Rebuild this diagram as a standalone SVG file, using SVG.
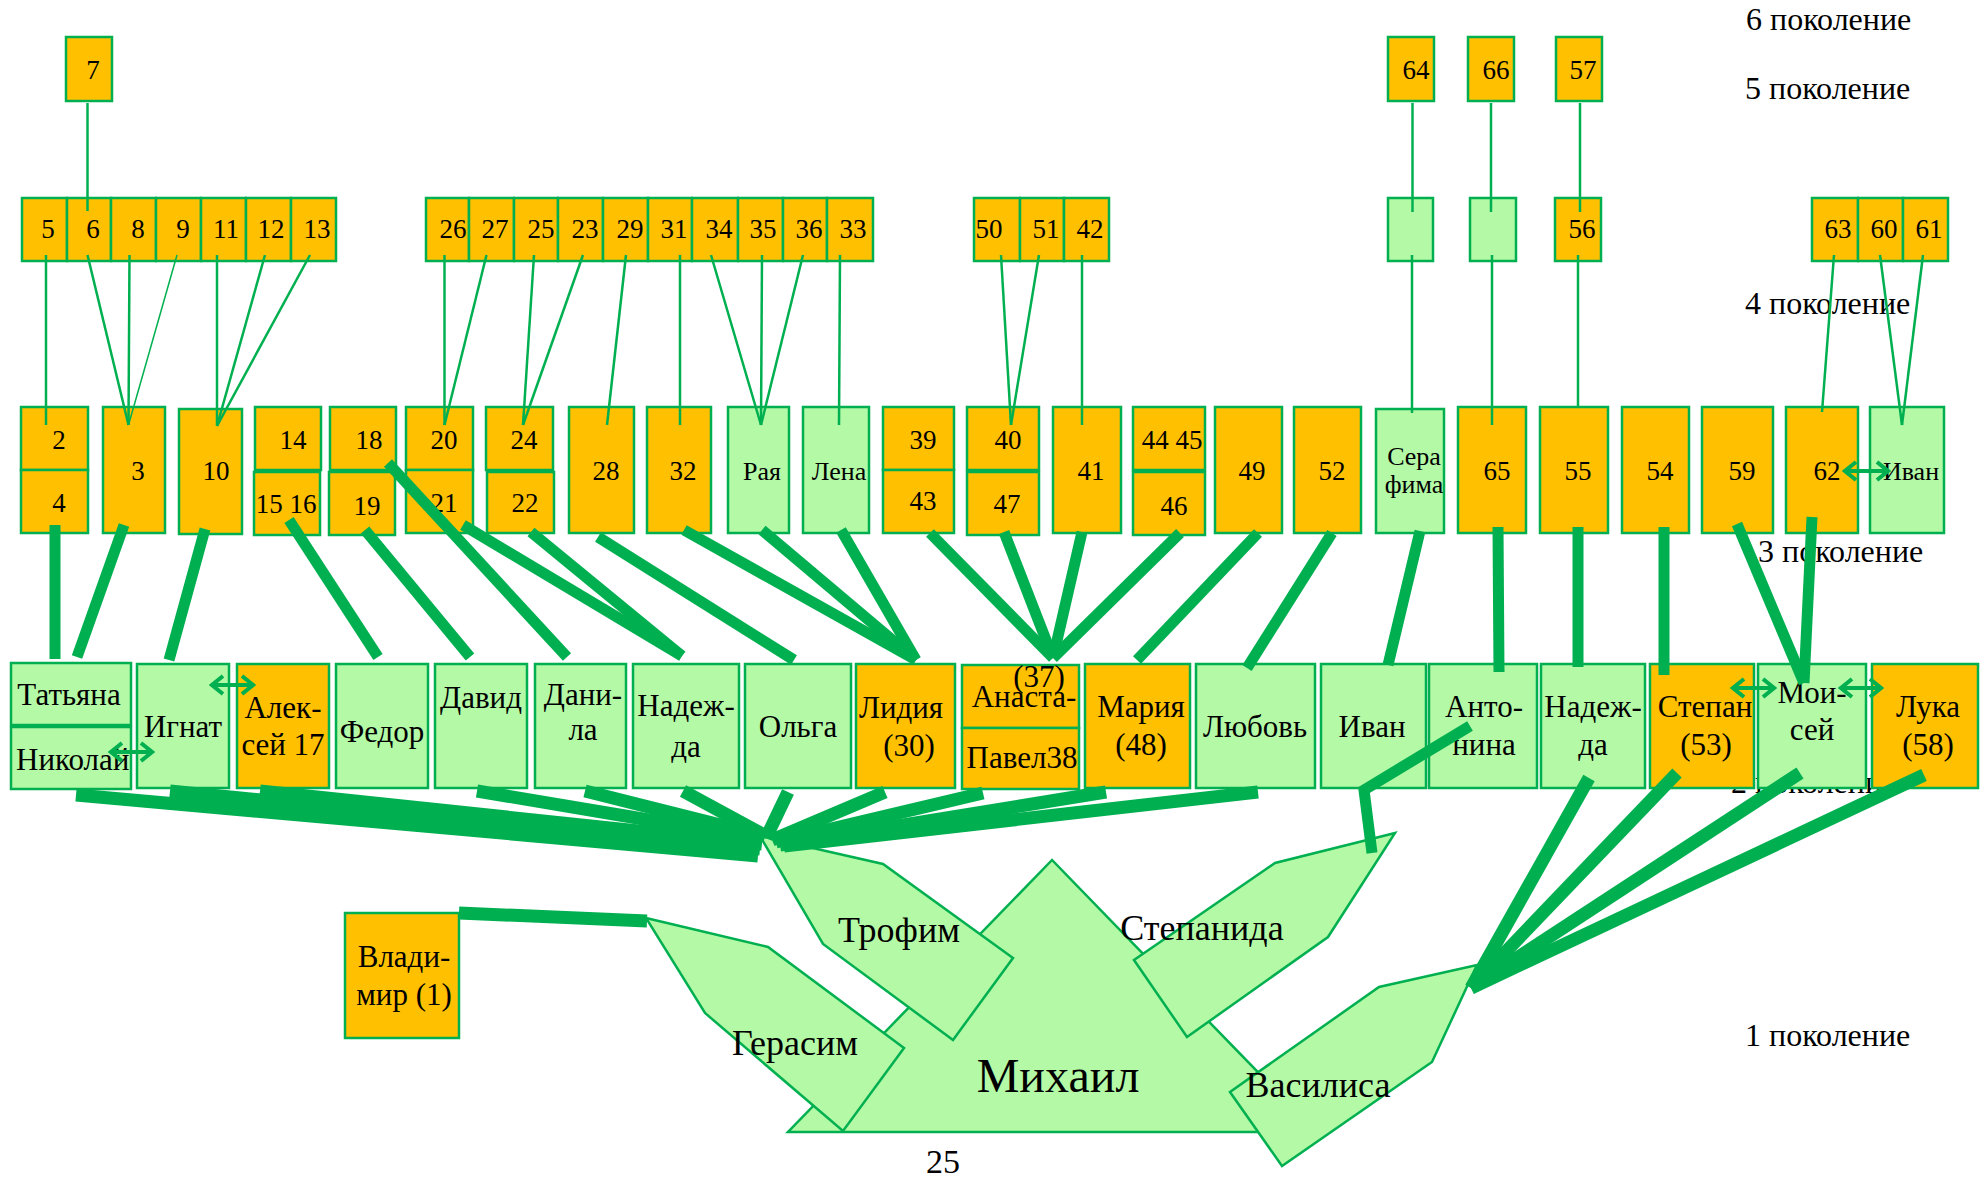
<svg xmlns="http://www.w3.org/2000/svg" width="1986" height="1179" viewBox="0 0 1986 1179">
<style>
text{font-family:"Liberation Serif","Times New Roman",serif;fill:#000}
.o{fill:#FFC000;stroke:#00B050;stroke-width:2.5}
.g{fill:#B3F9A6;stroke:#00B050;stroke-width:2.5}
.n{font-size:27px;text-anchor:middle}
.s{font-size:26px;text-anchor:middle}
.m{font-size:31px;text-anchor:middle}
.b{font-size:36px;text-anchor:middle}
.lab{font-size:32px}
.thin line{stroke:#00B050;stroke-width:2.5}
.thick line,.thick polyline{stroke:#00B050;stroke-width:11;fill:none}
.fan line{stroke:#00B050;stroke-width:13}
.da{stroke:#00B050;stroke-width:4;marker-start:url(#ah);marker-end:url(#ah)}
</style>
<defs>
<marker id="ah" viewBox="0 0 16 22" markerWidth="16" markerHeight="22" refX="13" refY="11" orient="auto-start-reverse" markerUnits="userSpaceOnUse">
<path d="M2,2 L13,11 L2,20" fill="none" stroke="#00B050" stroke-width="4"/>
</marker>
</defs>

<g id="labels">
<text class="lab" x="1746" y="30">6 поколение</text>
<text class="lab" x="1745" y="99">5 поколение</text>
<text class="lab" x="1745" y="314">4 поколение</text>
<text class="lab" x="1758" y="562">3 поколение</text>
<text class="lab" x="1731" y="793">2 поколение</text>
<text class="lab" x="1745" y="1046">1 поколение</text>
<text x="943" y="1173" style="font-size:34px;text-anchor:middle">25</text>
</g>

<!-- generation 1 -->
<g id="n-mikhail"><polygon class="g" points="1052,860 788,1132 1316,1132"/><text x="1058" y="1092" style="font-size:48px;text-anchor:middle">Михаил</text></g>
<g id="n-trofim"><polygon class="g" points="760,836 883,864 1013,958 953,1040 823,944"/><text class="b" x="899" y="942">Трофим</text></g>
<g id="n-gerasim"><polygon class="g" points="646,918 768,947 904,1048 843,1131 705,1013"/><text class="b" x="795" y="1055">Герасим</text></g>
<g id="n-stepanida"><polygon class="g" points="1134,960 1275,863 1395,833 1328,937 1187,1037"/><text class="b" x="1202" y="940">Степанида</text></g>
<g id="n-vasilisa"><polygon class="g" points="1230,1092 1379,987 1477,965 1432,1062 1282,1166"/><text class="b" x="1318" y="1097">Василиса</text></g>
<g id="n-vladimir"><rect class="o" x="345" y="913" width="114" height="125"/><text class="m" x="404" y="967">Влади-</text><text class="m" x="404" y="1005">мир (1)</text></g>

<!-- generation 2 -->
<g id="n-tatyana"><rect class="g" x="11" y="663" width="120" height="62"/><text class="m" x="69" y="705">Татьяна</text></g>
<g id="n-nikolai"><rect class="g" x="11" y="727" width="120" height="62"/><text class="m" x="16" y="770" style="text-anchor:start">Николай</text></g>
<g id="n-ignat"><rect class="g" x="137" y="664" width="92" height="124"/><text class="m" x="183" y="737">Игнат</text></g>
<g id="n-aleksei"><rect class="o" x="237" y="664" width="92" height="124"/><text class="m" x="283" y="718">Алек-</text><text class="m" x="283" y="755">сей 17</text></g>
<g id="n-fedor"><rect class="g" x="336" y="664" width="92" height="124"/><text class="m" x="382" y="742">Федор</text></g>
<g id="n-david"><rect class="g" x="435" y="664" width="92" height="124"/><text class="m" x="481" y="708">Давид</text></g>
<g id="n-danila"><rect class="g" x="535" y="664" width="91" height="124"/><text class="m" x="583" y="705">Дани-</text><text class="m" x="583" y="740">ла</text></g>
<g id="n-nadezhda1"><rect class="g" x="633" y="664" width="106" height="124"/><text class="m" x="686" y="716">Надеж-</text><text class="m" x="686" y="757">да</text></g>
<g id="n-olga"><rect class="g" x="745" y="664" width="106" height="124"/><text class="m" x="798" y="737">Ольга</text></g>
<g id="n-lidiya"><rect class="o" x="856" y="664" width="99" height="124"/><text class="m" x="901" y="718">Лидия</text><text class="m" x="909" y="756">(30)</text></g>
<g id="n-anastasia"><rect class="o" x="962" y="665" width="117" height="63"/><rect class="o" x="962" y="728" width="117" height="61"/><text class="m" x="1024" y="707">Анаста-</text><text class="m" x="1039" y="687">(37)</text><text class="m" x="1022" y="768">Павел38</text></g>
<g id="n-mariya"><rect class="o" x="1085" y="664" width="105" height="124"/><text class="m" x="1141" y="717">Мария</text><text class="m" x="1141" y="755">(48)</text></g>
<g id="n-lyubov"><rect class="g" x="1196" y="664" width="119" height="124"/><text class="m" x="1255" y="737">Любовь</text></g>
<g id="n-ivan2"><rect class="g" x="1321" y="664" width="105" height="124"/><text class="m" x="1372" y="737">Иван</text></g>
<g id="n-antonina"><rect class="g" x="1429" y="664" width="108" height="124"/><text class="m" x="1484" y="717">Анто-</text><text class="m" x="1484" y="755">нина</text></g>
<g id="n-nadezhda2"><rect class="g" x="1541" y="664" width="104" height="124"/><text class="m" x="1593" y="717">Надеж-</text><text class="m" x="1593" y="755">да</text></g>
<g id="n-stepan"><rect class="o" x="1650" y="664" width="104" height="124"/><text class="m" x="1705" y="717">Степан</text><text class="m" x="1706" y="755">(53)</text></g>
<g id="n-moisei"><rect class="g" x="1758" y="664" width="108" height="124"/><text class="m" x="1812" y="703">Мои-</text><text class="m" x="1812" y="740">сей</text></g>
<g id="n-luka"><rect class="o" x="1872" y="664" width="106" height="124"/><text class="m" x="1928" y="717">Лука</text><text class="m" x="1928" y="755">(58)</text></g>

<!-- generation 3 -->
<g id="n-2"><rect class="o" x="21" y="407" width="67" height="63"/><text class="n" x="59" y="449">2</text></g>
<g id="n-4"><rect class="o" x="21" y="470" width="67" height="63"/><text class="n" x="59" y="512">4</text></g>
<g id="n-3"><rect class="o" x="103" y="407" width="62" height="126"/><text class="n" x="138" y="480">3</text></g>
<g id="n-10"><rect class="o" x="179" y="409" width="63" height="125"/><text class="n" x="216" y="480">10</text></g>
<g id="n-14"><rect class="o" x="255" y="407" width="66" height="63"/><text class="n" x="293" y="449">14</text></g>
<g id="n-15-16"><rect class="o" x="254" y="472" width="66" height="63"/><text class="n" x="286" y="513">15 16</text></g>
<g id="n-18"><rect class="o" x="330" y="407" width="66" height="63"/><text class="n" x="369" y="449">18</text></g>
<g id="n-19"><rect class="o" x="329" y="472" width="66" height="63"/><text class="n" x="367" y="515">19</text></g>
<g id="n-20"><rect class="o" x="406" y="407" width="67" height="63"/><text class="n" x="444" y="449">20</text></g>
<g id="n-21"><rect class="o" x="406" y="470" width="67" height="63"/><text class="n" x="444" y="512">21</text></g>
<g id="n-24"><rect class="o" x="486" y="407" width="67" height="63"/><text class="n" x="524" y="449">24</text></g>
<g id="n-22"><rect class="o" x="487" y="472" width="67" height="61"/><text class="n" x="525" y="512">22</text></g>
<g id="n-28"><rect class="o" x="569" y="407" width="65" height="126"/><text class="n" x="606" y="480">28</text></g>
<g id="n-32"><rect class="o" x="647" y="407" width="64" height="126"/><text class="n" x="683" y="480">32</text></g>
<g id="n-raya"><rect class="g" x="728" y="407" width="61" height="126"/><text class="s" x="762" y="480">Рая</text></g>
<g id="n-lena"><rect class="g" x="803" y="407" width="66" height="126"/><text class="s" x="839" y="480">Лена</text></g>
<g id="n-39"><rect class="o" x="883" y="407" width="71" height="63"/><text class="n" x="923" y="449">39</text></g>
<g id="n-43"><rect class="o" x="883" y="470" width="71" height="63"/><text class="n" x="923" y="510">43</text></g>
<g id="n-40"><rect class="o" x="967" y="407" width="72" height="63"/><text class="n" x="1008" y="449">40</text></g>
<g id="n-47"><rect class="o" x="967" y="472" width="72" height="63"/><text class="n" x="1007" y="513">47</text></g>
<g id="n-41"><rect class="o" x="1053" y="407" width="68" height="126"/><text class="n" x="1091" y="480">41</text></g>
<g id="n-44-45"><rect class="o" x="1133" y="407" width="72" height="63"/><text class="n" x="1172" y="449">44 45</text></g>
<g id="n-46"><rect class="o" x="1133" y="472" width="72" height="63"/><text class="n" x="1174" y="515">46</text></g>
<g id="n-49"><rect class="o" x="1215" y="407" width="67" height="126"/><text class="n" x="1252" y="480">49</text></g>
<g id="n-52"><rect class="o" x="1294" y="407" width="67" height="126"/><text class="n" x="1332" y="480">52</text></g>
<g id="n-serafima"><rect class="g" x="1376" y="409" width="68" height="124"/><text class="s" x="1414" y="465">Сера</text><text class="s" x="1414" y="493">фима</text></g>
<g id="n-65"><rect class="o" x="1458" y="407" width="68" height="126"/><text class="n" x="1497" y="480">65</text></g>
<g id="n-55"><rect class="o" x="1540" y="407" width="68" height="126"/><text class="n" x="1578" y="480">55</text></g>
<g id="n-54"><rect class="o" x="1622" y="407" width="67" height="126"/><text class="n" x="1660" y="480">54</text></g>
<g id="n-59"><rect class="o" x="1702" y="407" width="71" height="126"/><text class="n" x="1742" y="480">59</text></g>
<g id="n-62"><rect class="o" x="1786" y="407" width="72" height="126"/><text class="n" x="1827" y="480">62</text></g>
<g id="n-ivan3"><rect class="g" x="1870" y="407" width="74" height="126"/><text class="s" x="1911" y="480">Иван</text></g>

<!-- generation 4 -->
<g id="n-5"><rect class="o" x="22" y="198" width="45" height="63"/><text class="n" x="48" y="238">5</text></g>
<g id="n-6"><rect class="o" x="67" y="198" width="44" height="63"/><text class="n" x="93" y="238">6</text></g>
<g id="n-8"><rect class="o" x="111" y="198" width="45" height="63"/><text class="n" x="138" y="238">8</text></g>
<g id="n-9"><rect class="o" x="156" y="198" width="45" height="63"/><text class="n" x="183" y="238">9</text></g>
<g id="n-11"><rect class="o" x="201" y="198" width="45" height="63"/><text class="n" x="226" y="238">11</text></g>
<g id="n-12"><rect class="o" x="246" y="198" width="45" height="63"/><text class="n" x="271" y="238">12</text></g>
<g id="n-13"><rect class="o" x="291" y="198" width="45" height="63"/><text class="n" x="317" y="238">13</text></g>
<g id="n-26"><rect class="o" x="426" y="198" width="43" height="63"/><text class="n" x="453" y="238">26</text></g>
<g id="n-27"><rect class="o" x="469" y="198" width="45" height="63"/><text class="n" x="495" y="238">27</text></g>
<g id="n-25"><rect class="o" x="514" y="198" width="44" height="63"/><text class="n" x="541" y="238">25</text></g>
<g id="n-23"><rect class="o" x="558" y="198" width="45" height="63"/><text class="n" x="585" y="238">23</text></g>
<g id="n-29"><rect class="o" x="603" y="198" width="45" height="63"/><text class="n" x="630" y="238">29</text></g>
<g id="n-31"><rect class="o" x="648" y="198" width="44" height="63"/><text class="n" x="674" y="238">31</text></g>
<g id="n-34"><rect class="o" x="692" y="198" width="46" height="63"/><text class="n" x="719" y="238">34</text></g>
<g id="n-35"><rect class="o" x="738" y="198" width="45" height="63"/><text class="n" x="763" y="238">35</text></g>
<g id="n-36"><rect class="o" x="783" y="198" width="44" height="63"/><text class="n" x="809" y="238">36</text></g>
<g id="n-33"><rect class="o" x="827" y="198" width="46" height="63"/><text class="n" x="853" y="238">33</text></g>
<g id="n-50"><rect class="o" x="974" y="198" width="46" height="63"/><text class="n" x="989" y="238">50</text></g>
<g id="n-51"><rect class="o" x="1020" y="198" width="44" height="63"/><text class="n" x="1046" y="238">51</text></g>
<g id="n-42"><rect class="o" x="1064" y="198" width="45" height="63"/><text class="n" x="1090" y="238">42</text></g>
<g id="n-g4a"><rect class="g" x="1388" y="198" width="45" height="63"/></g>
<g id="n-g4b"><rect class="g" x="1470" y="198" width="46" height="63"/></g>
<g id="n-56"><rect class="o" x="1555" y="198" width="46" height="63"/><text class="n" x="1582" y="238">56</text></g>
<g id="n-63"><rect class="o" x="1812" y="198" width="46" height="63"/><text class="n" x="1838" y="238">63</text></g>
<g id="n-60"><rect class="o" x="1858" y="198" width="45" height="63"/><text class="n" x="1884" y="238">60</text></g>
<g id="n-61"><rect class="o" x="1903" y="198" width="45" height="63"/><text class="n" x="1929" y="238">61</text></g>

<!-- generation 5 -->
<g id="n-7"><rect class="o" x="66" y="37" width="46" height="64"/><text class="n" x="93" y="79">7</text></g>
<g id="n-64"><rect class="o" x="1388" y="37" width="46" height="64"/><text class="n" x="1416" y="79">64</text></g>
<g id="n-66"><rect class="o" x="1468" y="37" width="46" height="64"/><text class="n" x="1496" y="79">66</text></g>
<g id="n-57"><rect class="o" x="1556" y="37" width="46" height="64"/><text class="n" x="1583" y="79">57</text></g>

<g id="connectors">
<g class="thin">
<line x1="87.5" y1="103" x2="87.5" y2="211"/>
<line x1="1412.5" y1="103" x2="1412.5" y2="212"/>
<line x1="1491" y1="103" x2="1491" y2="212"/>
<line x1="1580" y1="103" x2="1580" y2="212"/>
<line x1="46" y1="255" x2="46" y2="425"/>
<line x1="87.5" y1="255" x2="128.5" y2="425"/>
<line x1="129.5" y1="255" x2="128.5" y2="425"/>
<line x1="177" y1="255" x2="128.5" y2="425" style="stroke-width:1.5"/>
<line x1="217" y1="255" x2="217" y2="426"/>
<line x1="265" y1="255" x2="217" y2="426"/>
<line x1="310" y1="255" x2="217" y2="426"/>
<line x1="444.5" y1="255" x2="444.5" y2="425"/>
<line x1="486.5" y1="255" x2="444.5" y2="425"/>
<line x1="534" y1="255" x2="523" y2="425"/>
<line x1="583" y1="255" x2="523" y2="425"/>
<line x1="626" y1="255" x2="607" y2="425"/>
<line x1="680" y1="255" x2="680" y2="425"/>
<line x1="711" y1="255" x2="761" y2="425"/>
<line x1="762" y1="255" x2="761" y2="425"/>
<line x1="803" y1="255" x2="761" y2="425"/>
<line x1="840" y1="255" x2="839" y2="425"/>
<line x1="1001" y1="255" x2="1011" y2="425"/>
<line x1="1039" y1="255" x2="1011" y2="425"/>
<line x1="1082" y1="255" x2="1082" y2="425"/>
<line x1="1412" y1="255" x2="1412" y2="413"/>
<line x1="1492" y1="255" x2="1492" y2="425"/>
<line x1="1578" y1="255" x2="1578" y2="407"/>
<line x1="1834" y1="255" x2="1822" y2="412"/>
<line x1="1880" y1="255" x2="1902" y2="425"/>
<line x1="1923" y1="255" x2="1902" y2="425"/>
</g>
<g class="thick">
<line x1="55" y1="525" x2="55" y2="659"/>
<line x1="124" y1="525" x2="77" y2="657"/>
<line x1="205" y1="529" x2="169" y2="660"/>
<line x1="289" y1="520" x2="378" y2="657"/>
<line x1="365" y1="530" x2="470" y2="657"/>
<line x1="388" y1="463" x2="567" y2="657"/>
<line x1="463" y1="525" x2="682" y2="656"/>
<line x1="531" y1="532" x2="682" y2="656"/>
<line x1="598" y1="537" x2="794" y2="660"/>
<line x1="684" y1="530" x2="916" y2="660"/>
<line x1="762" y1="530" x2="916" y2="660"/>
<line x1="841" y1="530" x2="916" y2="660"/>
<line x1="930" y1="533" x2="1053" y2="658"/>
<line x1="1004" y1="532" x2="1053" y2="658"/>
<line x1="1082" y1="532" x2="1053" y2="658"/>
<line x1="1180" y1="533" x2="1053" y2="658"/>
<line x1="1258" y1="533" x2="1137" y2="660"/>
<line x1="1332" y1="533" x2="1247" y2="668"/>
<line x1="1420" y1="531" x2="1388" y2="665"/>
<line x1="1498" y1="527" x2="1499" y2="672"/>
<line x1="1578" y1="527" x2="1578" y2="667"/>
<line x1="1664" y1="527" x2="1664" y2="675"/>
<line x1="1737" y1="524" x2="1804" y2="683"/>
<line x1="1812" y1="517" x2="1804" y2="683"/>
<polyline points="1470,726 1364,790 1372,853"/>
</g>
<g class="fan">
<line x1="76" y1="795" x2="758" y2="856"/>
<line x1="170" y1="791" x2="760" y2="849"/>
<line x1="260" y1="791" x2="762" y2="844"/>
<line x1="477" y1="791" x2="762" y2="839"/>
<line x1="585" y1="791" x2="764" y2="836"/>
<line x1="683" y1="791" x2="766" y2="836"/>
<line x1="788" y1="792" x2="766" y2="838"/>
<line x1="885" y1="792" x2="772" y2="840"/>
<line x1="983" y1="793" x2="776" y2="842"/>
<line x1="1106" y1="792" x2="780" y2="845"/>
<line x1="1258" y1="792" x2="784" y2="846"/>
<line x1="459" y1="913" x2="647" y2="921"/>
<line x1="1589" y1="778" x2="1471" y2="988"/>
<line x1="1677" y1="773" x2="1471" y2="988"/>
<line x1="1800" y1="773" x2="1471" y2="988"/>
<line x1="1924" y1="775" x2="1471" y2="988"/>
</g>
<line class="da" x1="111" y1="752" x2="152" y2="752"/>
<line class="da" x1="212" y1="685" x2="253" y2="685"/>
<line class="da" x1="1733" y1="688" x2="1774" y2="688"/>
<line class="da" x1="1841" y1="688" x2="1881" y2="688"/>
<line class="da" x1="1845" y1="471" x2="1888" y2="471"/>
</g>
</svg>
